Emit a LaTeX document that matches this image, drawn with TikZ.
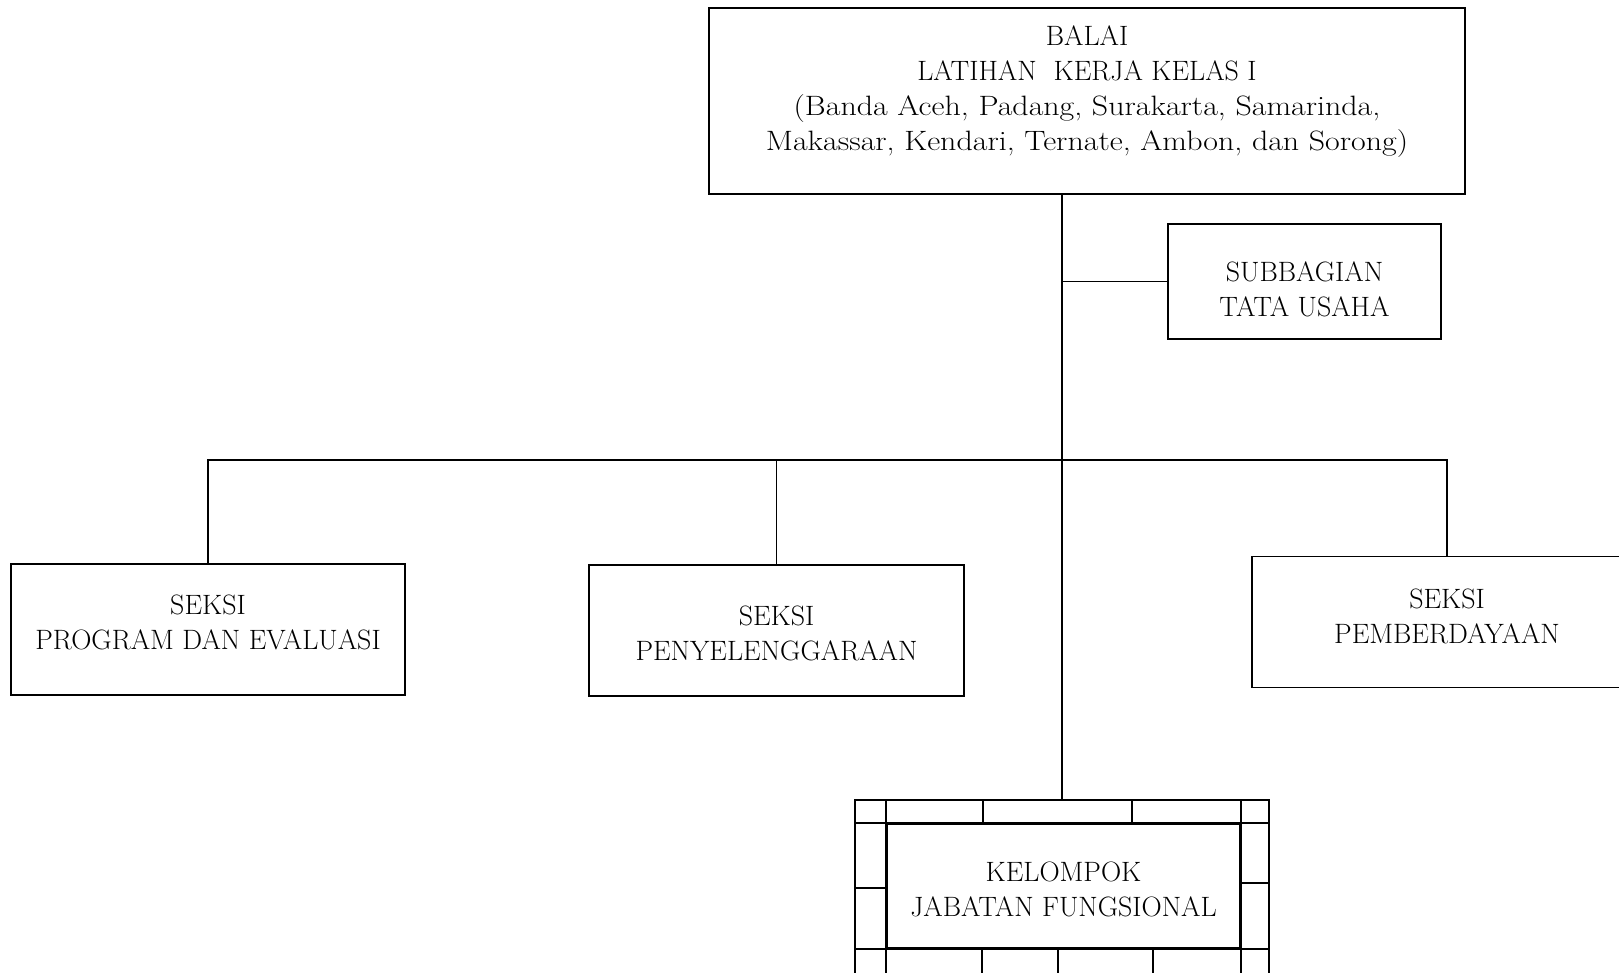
\documentclass[tikz,border=0pt]{standalone}
\usepackage{fontspec}
\usepackage{tikz}
\usetikzlibrary{positioning}
\setmainfont{Latin Modern Roman}
\newfontfamily\widefont{Latin Modern Roman}[FakeStretch=1.14]
\newcommand{\orgfont}{\fontsize{28}{35}\selectfont}
\tikzset{
  orgbox/.style={
    rectangle,
    draw=black,
    line width=1.6pt,
    inner sep=0pt
  },
  orgtext/.style={align=center, inner sep=0pt, font=\orgfont},
  orgline/.style={line width=1.6pt, draw=black},
  brickline/.style={line width=1.6pt, draw=black}
}
\begin{document}
\begin{tikzpicture}[x=1pt, y=-1pt]
\useasboundingbox (0,0) rectangle (1619,972);
\clip (0,0) rectangle (1619,972);
\node[orgbox, minimum width=756pt, minimum height=186pt] (balai) at (1087,101) {};
\node[orgtext] (balaitext) at ([yshift=9pt]balai.center) {BALAI\\LATIHAN\ \ KERJA KELAS I\\{\widefont(Banda Aceh, Padang, Surakarta, Samarinda,}\\{\widefont Makassar, Kendari, Ternate, Ambon, dan Sorong)}};
\node[orgbox, minimum width=273pt, minimum height=115pt] (tu) at (1304.5,281.5) {};
\node[orgtext] (tutext) at ([yshift=-8pt]tu.center) {SUBBAGIAN\\TATA USAHA};
\node[orgbox, minimum width=394pt, minimum height=131pt] (progev) at (208,629.5) {};
\node[orgtext] (progevtext) at ([yshift=7pt]progev.center) {SEKSI\\PROGRAM DAN EVALUASI};
\node[orgbox, minimum width=375pt, minimum height=131pt] (penyel) at (776.5,630.5) {};
\node[orgtext] (penyeltext) at ([yshift=-3pt]penyel.center) {SEKSI\\PENYELENGGARAAN};
\node[orgbox, minimum width=390pt, minimum height=131pt] (pember) at (1447,622) {};
\node[orgtext] (pembertext) at ([yshift=6pt]pember.center) {SEKSI\\PEMBERDAYAAN};
\node[orgbox, minimum width=414pt, minimum height=174pt] (jfframe) at (1062,887) {};
\node[orgbox, minimum width=353pt, minimum height=124pt] (jf) at (1063.5,886) {};
\node[orgtext] (jftext) at ([yshift=-3pt]jf.center) {KELOMPOK\\JABATAN FUNGSIONAL};
\coordinate (bus) at (1063,460);
\draw[orgline] (balai.south -| jfframe.north) -- (jfframe.north);
\draw[orgline] (tu.west -| jfframe.north) -- (tu.west);
\draw[orgline] (progev.north) |- (bus) -| (pember.north);
\draw[orgline] (penyel.north) -- (penyel.north |- bus);
\draw[brickline] (jfframe.west |- jf.north) -- (jfframe.east |- jf.north);
\draw[brickline] (jfframe.west |- jf.south) -- (jfframe.east |- jf.south);
\draw[brickline] (jf.west |- jfframe.north) -- (jf.west |- jfframe.south);
\draw[brickline] (jf.east |- jfframe.north) -- (jf.east |- jfframe.south);
\foreach \bx in {983,1132}
  \draw[brickline] (\bx,800) -- (\bx,824);
\foreach \bx in {982,1058,1153}
  \draw[brickline] (\bx,948) -- (\bx,974);
\draw[brickline] (jfframe.west |- 0,888) -- (jf.west |- 0,888);
\draw[brickline] (jf.east |- 0,883) -- (jfframe.east |- 0,883);
\end{tikzpicture}
\end{document}
